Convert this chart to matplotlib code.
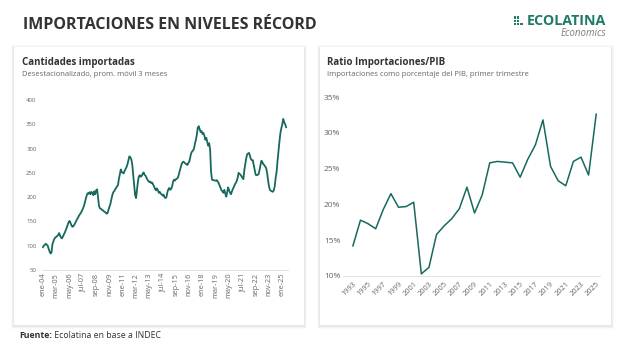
import matplotlib
matplotlib.use("Agg")
import matplotlib.pyplot as plt
from matplotlib.patches import Rectangle
from matplotlib.text import Annotation

plt.rcParams['font.family'] = ['Open Sans', 'DejaVu Sans']

# --- data -------------------------------------------------------------
# Cantidades importadas, desestacionalizado, prom. movil 3 meses (ene-04 .. may-25)
cantidades = [
    97, 100, 102, 104, 102, 100, 94, 88, 84, 86, 103, 109,          # 2004
    114, 117, 118, 120, 122, 126, 121, 117, 115, 119, 123, 127,     # 2005
    132, 137, 143, 148, 151, 147, 142, 139, 140, 143, 147, 151,     # 2006
    155, 158, 162, 165, 168, 172, 176, 181, 188, 196, 203, 208,     # 2007
    207, 210, 206, 211, 208, 204, 212, 206, 214, 216, 200, 182,     # 2008
    177, 176, 174, 173, 171, 170, 168, 166, 167, 174, 180, 186,     # 2009
    195, 204, 210, 212, 216, 219, 222, 225, 238, 248, 257, 252,     # 2010
    250, 249, 254, 258, 262, 268, 276, 284, 282, 278, 268, 246,     # 2011
    225, 205, 198, 215, 232, 243, 245, 242, 244, 248, 251, 246,     # 2012
    244, 240, 236, 233, 231, 232, 229, 230, 226, 222, 217, 214,     # 2013
    218, 214, 209, 211, 207, 206, 203, 205, 200, 198, 200, 210,     # 2014
    216, 219, 215, 217, 222, 232, 236, 234, 237, 238, 240, 246,     # 2015
    254, 261, 268, 272, 273, 271, 269, 268, 266, 270, 273, 282,     # 2016
    290, 294, 296, 300, 310, 318, 328, 343, 346, 340, 334, 336,     # 2017
    330, 332, 326, 318, 322, 314, 306, 311, 298, 252, 236, 235,     # 2018
    235, 234, 234, 235, 232, 229, 224, 219, 214, 212, 209, 215,     # 2019
    207, 201, 210, 220, 214, 209, 206, 212, 217, 221, 226, 229,     # 2020
    233, 240, 250, 248, 246, 243, 240, 237, 255, 267, 280, 288,     # 2021
    290, 291, 285, 278, 276, 276, 265, 256, 246, 245, 246, 247,     # 2022
    255, 266, 275, 272, 268, 266, 263, 260, 250, 235, 222, 215,     # 2023
    213, 212, 211, 214, 222, 240, 252, 275, 295, 315, 332, 342,     # 2024
    350, 361, 354, 350, 344,                                        # 2025
]
meses = ["ene", "feb", "mar", "abr", "may", "jun",
         "jul", "ago", "sep", "oct", "nov", "dic"]
fechas = [f"{meses[i % 12]}-{(4 + i // 12):02d}" for i in range(len(cantidades))]

# Ratio importaciones / PIB, primer trimestre (%)
anios = list(range(1993, 2026))
ratio = [14.2, 17.8, 17.3, 16.6, 19.3, 21.5, 19.6, 19.7, 20.3, 10.3, 11.2,
         15.8, 17.0, 18.0, 19.4, 22.4, 18.8, 21.3, 25.8, 26.0, 25.9, 25.8,
         23.8, 26.3, 28.3, 31.8, 25.3, 23.3, 22.6, 26.0, 26.6, 24.1, 32.6]

TEAL = "#17695e"
LOGO = "#1f7a68"
DARK = "#333333"
GREY = "#666666"
W, H = 620, 352

fig = plt.figure(figsize=(6.2, 3.52), dpi=100)
fig.patch.set_facecolor("white")


def fx(px):
    return px / W


def fy(py):
    return 1 - py / H


# cards with a soft shadow
TOP, BOT = 47, 325
for (x0, x1) in [(14, 304), (320, 611)]:
    for k, a in enumerate([0.02, 0.03, 0.045]):
        d = 3 - k
        fig.add_artist(Rectangle((fx(x0 - d), fy(BOT + d + 1)), fx(x1 - x0 + 2 * d),
                                 (BOT - TOP + 2 * d) / H, transform=fig.transFigure,
                                 facecolor="black", alpha=a, edgecolor="none", zorder=0))
    fig.add_artist(Rectangle((fx(x0), fy(BOT)), fx(x1 - x0), (BOT - TOP) / H,
                             transform=fig.transFigure, facecolor="white",
                             edgecolor="none", zorder=0.5))

# header
fig.text(fx(23), fy(25), "IMPORTACIONES EN NIVELES RÉCORD", fontsize=11.5,
         fontweight="bold", color=DARK, va="center", ha="left")
fig.text(fx(606), fy(21), "ECOLATINA", fontsize=10.3, fontweight="bold",
         color=LOGO, va="center", ha="right")
fig.text(fx(606), fy(33), "Economics", fontsize=7, style="italic",
         color="#7a7a7a", va="center", ha="right")
for i in range(3):
    for j in range(3):
        if j == 2 and i != 2:
            continue
        fig.add_artist(Rectangle((fx(514 + j * 3.2), fy(16.5 + i * 3.2 + 2.2)), fx(2.2),
                                 2.2 / H, transform=fig.transFigure, facecolor=LOGO,
                                 edgecolor="none"))

# card titles
fig.text(fx(22), fy(62), "Cantidades importadas", fontsize=7, fontweight="bold",
         color=DARK, va="center")
fig.text(fx(22), fy(74), "Desestacionalizado, prom. móvil 3 meses", fontsize=5.5,
         color=GREY, va="center")
fig.text(fx(327), fy(62), "Ratio Importaciones/PIB", fontsize=7, fontweight="bold",
         color=DARK, va="center")
fig.text(fx(327), fy(74), "Importaciones como porcentaje del PIB, primer trimestre",
         fontsize=5.5, color=GREY, va="center")

# footer
t_fuente = fig.text(fx(19), fy(335), "Fuente:", fontsize=6.3, fontweight="bold",
                    color=DARK, va="center")
fig.add_artist(Annotation(" Ecolatina en base a INDEC", xy=(1, 0.5), xycoords=t_fuente,
                          va="center", ha="left", fontsize=6.3, color=DARK))

# --- left chart ---------------------------------------------------------
ax1 = fig.add_axes([fx(42), fy(270), fx(288 - 42), (270 - 100) / H], zorder=2)
ax1.plot(range(len(cantidades)), cantidades, color=TEAL, lw=1.3)
ax1.set_ylim(50, 400)
ax1.set_xlim(-1, len(cantidades) + 1)
ax1.set_yticks([50, 100, 150, 200, 250, 300, 350, 400])
ticks = list(range(0, len(cantidades), 14))
ax1.set_xticks(ticks)
ax1.set_xticklabels([fechas[i] for i in ticks], rotation=90, fontsize=5.3, color=GREY)
ax1.tick_params(axis="y", labelsize=4.3, colors=GREY, length=0, pad=4)
ax1.tick_params(axis="x", length=0, pad=2)
for s in ["top", "right", "left"]:
    ax1.spines[s].set_visible(False)
ax1.spines["bottom"].set_color("#dddddd")
ax1.spines["bottom"].set_linewidth(0.6)
ax1.patch.set_alpha(0)

# --- right chart --------------------------------------------------------
ax2 = fig.add_axes([fx(343), fy(276), fx(600 - 343), (276 - 97) / H], zorder=2)
ax2.plot(anios, ratio, color=TEAL, lw=1.1)
ax2.set_ylim(10, 35)
ax2.set_xlim(1991.7, 2025.5)
ax2.set_yticks([10, 15, 20, 25, 30, 35])
ax2.set_yticklabels([f"{v}%" for v in [10, 15, 20, 25, 30, 35]])
ax2.set_xticks(anios[::2])
ax2.set_xticklabels([str(a) for a in anios[::2]], rotation=45, ha="right",
                    rotation_mode="anchor", fontsize=5.4, color=GREY)
ax2.tick_params(axis="y", labelsize=6, colors=GREY, length=0, pad=2)
ax2.tick_params(axis="x", length=0, pad=3)
for s in ["top", "right", "left"]:
    ax2.spines[s].set_visible(False)
ax2.spines["bottom"].set_color("#dddddd")
ax2.spines["bottom"].set_linewidth(0.6)
ax2.patch.set_alpha(0)

fig.savefig("out.png", dpi=100)
